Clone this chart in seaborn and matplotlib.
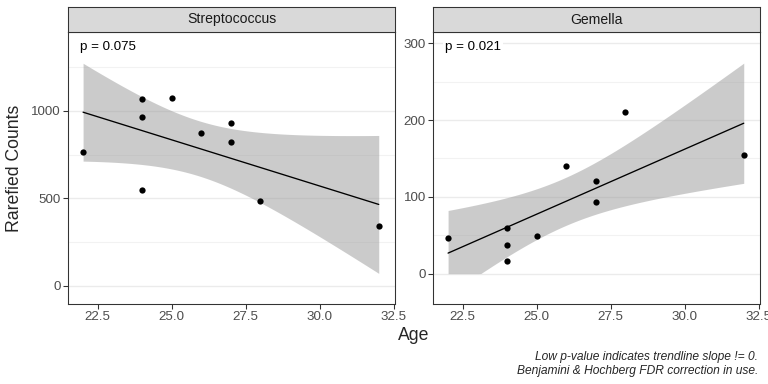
"""
Rarefied counts vs age for two genera, faceted, with linear trend and 95% CI.
"""

import numpy as np
import pandas as pd
import matplotlib
matplotlib.use('Agg')
import matplotlib.pyplot as plt
import seaborn as sns

# data
ages = [22, 24, 24, 24, 25, 26, 27, 27, 28, 32]
strep_counts = [766, 1067, 966, 547, 1072, 874, 933, 825, 484, 341]
gemella_counts = [46, 60, 37, 16, 49, 140, 120, 93, 211, 155]

genera = ['Streptococcus', 'Gemella']
p_labels = ['p = 0.075', 'p = 0.021']
y_major = [[0, 500, 1000], [0, 100, 200, 300]]
y_minor = [[250, 750, 1250], [50, 150, 250]]
y_limits = [(-103, 1453), (-39.5, 315)]
x_ticks = [22.5, 25.0, 27.5, 30.0, 32.5]
caption = ('Low p-value indicates trendline slope != 0.\n'
           'Benjamini & Hochberg FDR correction in use.')

T_CRIT = 2.306  # t quantile 0.975, df = 8

df = pd.DataFrame({
    'Age': ages * 2,
    'Counts': strep_counts + gemella_counts,
    'Genus': [genera[0]] * len(ages) + [genera[1]] * len(ages),
})

sns.set_style('white')
plt.rcParams['font.family'] = ['Liberation Sans', 'DejaVu Sans']

W, H = 768, 384
fig = plt.figure(figsize=(W / 96, H / 96), dpi=96)

panel_left = [68.3, 433.3]
panel_w = 326.7
panel_top, panel_bot = 31.7, 304.0
strip_top = 7.3
border = '#333333'

for i, genus in enumerate(genera):
    l = panel_left[i] / W
    b = 1 - panel_bot / H
    w = panel_w / W
    h = (panel_bot - panel_top) / H
    ax = fig.add_axes([l, b, w, h])

    sub = df[df['Genus'] == genus]
    x = sub['Age'].values.astype(float)
    y = sub['Counts'].values.astype(float)
    n = len(x)
    slope, intercept = np.polyfit(x, y, 1)
    grid = np.linspace(x.min(), x.max(), 100)
    fit = intercept + slope * grid
    resid = y - (intercept + slope * x)
    s = np.sqrt(np.sum(resid ** 2) / (n - 2))
    se = s * np.sqrt(1 / n + (grid - x.mean()) ** 2 / np.sum((x - x.mean()) ** 2))
    lo = np.maximum(fit - T_CRIT * se, 0)
    hi = fit + T_CRIT * se
    ax.fill_between(grid, lo, hi, color='#999999', alpha=0.5, lw=0, zorder=1)

    sns.regplot(data=sub, x='Age', y='Counts', ci=None, ax=ax,
                scatter_kws=dict(s=22, color='black', alpha=1, linewidths=0,
                                 zorder=3),
                line_kws=dict(color='black', lw=1.0, zorder=2))

    ax.set_xlim(21.5, 32.55)
    ax.set_ylim(*y_limits[i])
    ax.set_xticks(x_ticks)
    ax.set_xticklabels([f'{t:.1f}' for t in x_ticks])
    ax.set_yticks(y_major[i])
    ax.set_yticks(y_minor[i], minor=True)
    ax.grid(False)
    ax.grid(axis='y', which='major', color='#EBEBEB', lw=1.0, zorder=0)
    ax.grid(axis='y', which='minor', color='#F2F2F2', lw=0.8, zorder=0)
    ax.set_axisbelow(True)
    ax.tick_params(axis='both', which='major', direction='out', length=3.5,
                   width=0.8, color=border, labelcolor='#4D4D4D',
                   labelsize=10, pad=2, bottom=True, left=True)
    ax.tick_params(axis='y', which='minor', length=0)
    for sp in ax.spines.values():
        sp.set_color(border)
        sp.set_linewidth(0.8)
    ax.set_xlabel('')
    ax.set_ylabel('')

    ax.text(0.036, 0.943, p_labels[i], transform=ax.transAxes, fontsize=10,
            ha='left', va='center', color='black', zorder=4,
            bbox=dict(facecolor='white', edgecolor='none', pad=1.5))

    # facet strip
    sax = fig.add_axes([l, 1 - panel_top / H, w, (panel_top - strip_top) / H])
    sax.set_facecolor('#D9D9D9')
    sax.set_xticks([])
    sax.set_yticks([])
    for sp in sax.spines.values():
        sp.set_color(border)
        sp.set_linewidth(0.8)
    sax.text(0.5, 0.5, genus, transform=sax.transAxes, ha='center',
             va='center', fontsize=10.5, color='#1A1A1A')

fig.text(15 / W, 1 - 168 / H, 'Rarefied Counts', rotation=90, ha='center',
         va='center', fontsize=13.2)
fig.text(414 / W, 1 - 336 / H, 'Age', ha='center', va='center', fontsize=13.2)
fig.text(758 / W, 1 - 364 / H, caption, ha='right', va='center',
         fontsize=9, style='italic', linespacing=1.2)

fig.savefig('out.png', dpi=96)
plt.close(fig)
